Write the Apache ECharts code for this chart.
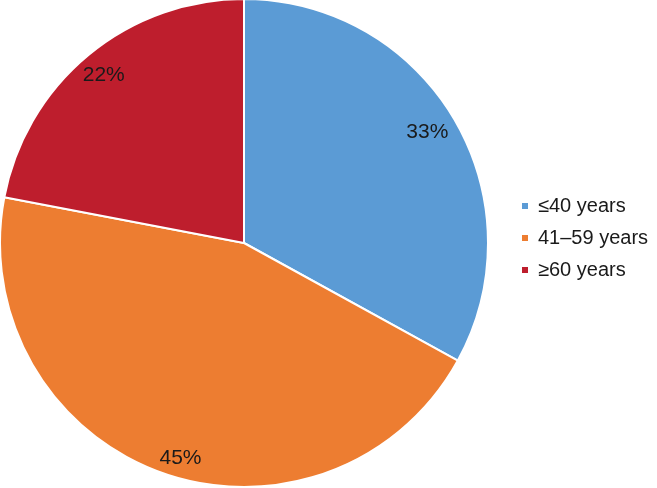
<!DOCTYPE html>
<html><head><meta charset="utf-8">
<script src="https://cdn.jsdelivr.net/npm/echarts@6/dist/echarts.min.js"></script>
<style>html,body{margin:0;padding:0;background:#fff}#c{width:657px;height:488px}</style>
</head><body><div id="c"></div>
<script>
const categories = ['≤40 years', '41–59 years', '≥60 years'];
const values = [33, 45, 22];
const colors = ['#5B9BD5', '#ED7D31', '#BE1E2D'];

const labelNudge = [[-6, 1], [11, 8], [0, 2]];
const data = categories.map((n, i) => ({ name: n, value: values[i], itemStyle: { color: colors[i] } }));
const chart = echarts.init(document.getElementById('c'));
chart.setOption({
  animation: false,
  legend: {
    orient: 'vertical', left: 515, top: 191,
    itemWidth: 8, itemHeight: 8, itemGap: 12, icon: 'rect',
    textStyle: { fontFamily: 'Liberation Sans, Arial', fontSize: 20, color: '#1a1a1a', padding: [0,0,0,4] },
    data: categories
  },
  series: [{
    type: 'pie', center: [244, 243], radius: 244, startAngle: 90, clockwise: true,
    data: data,
    itemStyle: { borderColor: '#fff', borderWidth: 2 },
    label: { show: false }, labelLine: { show: false }, emphasis: { disabled: true }
  }, {
    type: 'pie', center: [244, 243], radius: [190, 244], startAngle: 90, clockwise: true,
    silent: true, legendHoverLink: false,
    data: categories.map((n, i) => ({ name: n + ' ', value: values[i], label: { offset: labelNudge[i] } })),
    itemStyle: { color: 'rgba(0,0,0,0)' },
    label: { show: true, position: 'inside', formatter: p => p.value + '%', fontFamily: 'Liberation Sans, Arial', fontSize: 21, color: '#1a1a1a' },
    labelLine: { show: false }, emphasis: { disabled: true }
  }]
});
</script></body></html>
